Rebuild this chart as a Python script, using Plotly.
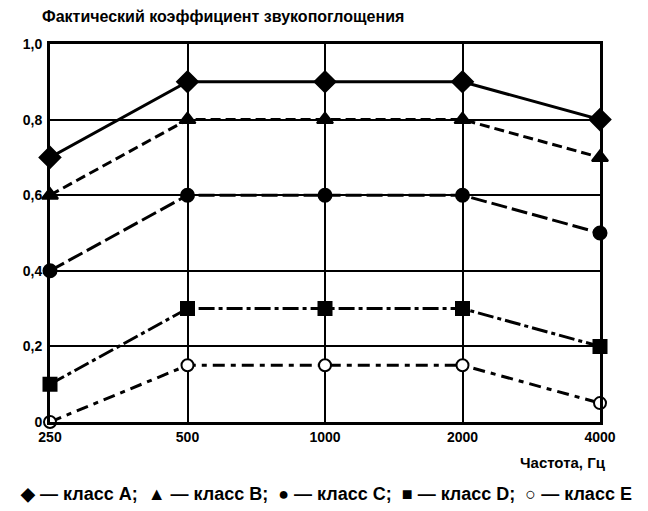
import plotly.graph_objects as go

categories = ["250", "500", "1000", "2000", "4000"]
class_a = [0.7, 0.9, 0.9, 0.9, 0.8]
class_b = [0.6, 0.8, 0.8, 0.8, 0.7]
class_c = [0.4, 0.6, 0.6, 0.6, 0.5]
class_d = [0.1, 0.3, 0.3, 0.3, 0.2]
class_e = [0.0, 0.15, 0.15, 0.15, 0.05]
y_ticks = [0, 0.2, 0.4, 0.6, 0.8, 1.0]
y_labels = ["0", "0,2", "0,4", "0,6", "0,8", "1,0"]

FONT = "Liberation Sans"

series = [
    (class_a, "solid", "diamond", "black", 16),
    (class_b, "10px,5px", "triangle-up", "black", 14),
    (class_c, "16px,5px", "circle", "black", 13),
    (class_d, "16px,4px,4px,4px", "square", "black", 13),
    (class_e, "12px,6px,5px,6px", "circle", "white", 12),
]
names = ["класс A", "класс B", "класс C", "класс D", "класс E"]

fig = go.Figure()
for (vals, dash, sym, fill, size), name in zip(series, names):
    fig.add_trace(go.Scatter(
        x=categories, y=vals, mode="lines+markers", name=name,
        line=dict(color="black", width=3, dash=dash),
        marker=dict(symbol=sym, size=size, color=fill,
                    line=dict(color="black", width=2)),
        cliponaxis=False, showlegend=False,
    ))

fig.update_xaxes(
    type="category", range=[0, 4], showgrid=True, gridcolor="black", gridwidth=2,
    showline=True, linecolor="black", linewidth=3, mirror=True,
    ticks="", tickfont=dict(family=FONT, size=14, color="black", weight="bold"),
    zeroline=False,
)
fig.update_yaxes(
    range=[0, 1.0], tickvals=y_ticks, ticktext=y_labels,
    showgrid=True, gridcolor="black", gridwidth=2,
    showline=True, linecolor="black", linewidth=3, mirror=True,
    ticks="", ticklabelstandoff=2,
    tickfont=dict(family=FONT, size=14, color="black", weight="bold"),
    zeroline=False,
)

fig.update_layout(
    width=648, height=511,
    margin=dict(l=42, r=56, t=36, b=97),
    paper_bgcolor="white", plot_bgcolor="white",
    font=dict(family=FONT, color="black"),
    annotations=[
        dict(text="<b>Фактический коэффициент звукопоглощения</b>",
             xref="paper", yref="paper", x=-0.018, y=1.0, yshift=28,
             xanchor="left", yanchor="middle", showarrow=False,
             font=dict(family=FONT, size=16, color="black")),
        dict(text="<b>Частота, Гц</b>",
             xref="paper", yref="paper", x=1.0145, y=0, yshift=-40,
             xanchor="right", yanchor="middle", showarrow=False,
             font=dict(family=FONT, size=15, color="black")),
        dict(text="<b>◆ — класс A;  ▲ — класс B;  ● — класс C;  ■ — класс D;  ○ — класс E</b>",
             xref="paper", yref="paper", x=0.502, y=0, yshift=-72,
             xanchor="center", yanchor="middle", showarrow=False,
             font=dict(family=FONT, size=18, color="black")),
    ],
)

fig.write_html("out.html")
